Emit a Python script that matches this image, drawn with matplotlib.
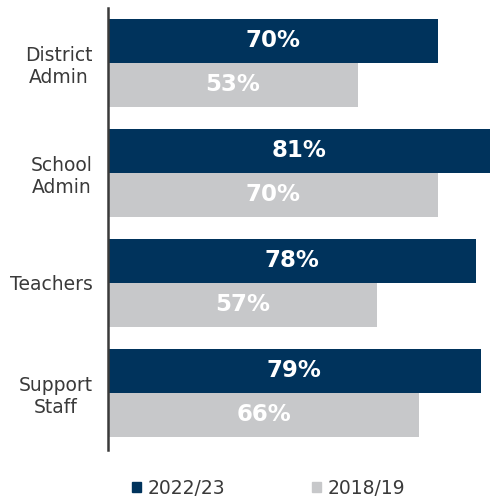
#!/usr/bin/env python3

# Grouped horizontal bars comparing two survey years by staff group.

import matplotlib.pyplot as plt
import numpy as np
from matplotlib.patches import Patch

# Categories and percentages for each survey year.
groups = ['District\nAdmin', 'School\nAdmin', 'Teachers', 'Support\nStaff']
pct_2022 = [70, 81, 78, 79]
pct_2018 = [53, 70, 57, 66]
years = ['2022/23', '2018/19']

navy = '#00335c'
grey = '#c7c8ca'

plt.rcParams['font.family'] = ['DejaVu Sans']

fig = plt.figure(figsize=(4.90, 4.97), dpi=100)
ax = fig.add_axes([108 / 490, 47 / 497, 382 / 490, 442 / 497])

y = np.arange(len(groups))
h = 0.4

bars_new = ax.barh(y - h / 2, pct_2022, height=h, color=navy)
bars_old = ax.barh(y + h / 2, pct_2018, height=h, color=grey)

# Value labels centred in each bar.
for bars in (bars_new, bars_old):
    for b in bars:
        w = b.get_width()
        ax.text(w / 2, b.get_y() + b.get_height() / 2, f'{w:.0f}%',
                ha='center', va='center', color='white',
                fontsize=16.5, fontweight='bold')

ax.set_xlim(0, 81)
ax.set_ylim(3.52, -0.5)

ax.set_yticks(y)
ax.set_yticklabels(groups, fontsize=13.5, color='#3a3a3a',
                   multialignment='center')
ax.tick_params(axis='y', length=0, pad=11)
ax.set_xticks([])

for side in ['top', 'right', 'bottom']:
    ax.spines[side].set_visible(False)
ax.spines['left'].set_color('#3a3a3a')
ax.spines['left'].set_linewidth(1.8)

# Legend along the bottom.
handles = [Patch(color=navy), Patch(color=grey)]
fig.legend(handles, years, loc='center', bbox_to_anchor=(0.548, 0.018),
           ncol=2, frameon=False, fontsize=13.5, handlelength=0.48,
           handleheight=0.48, handletextpad=0.35, columnspacing=4.6,
           labelcolor='#3a3a3a')

fig.savefig('out.png', dpi=100)
